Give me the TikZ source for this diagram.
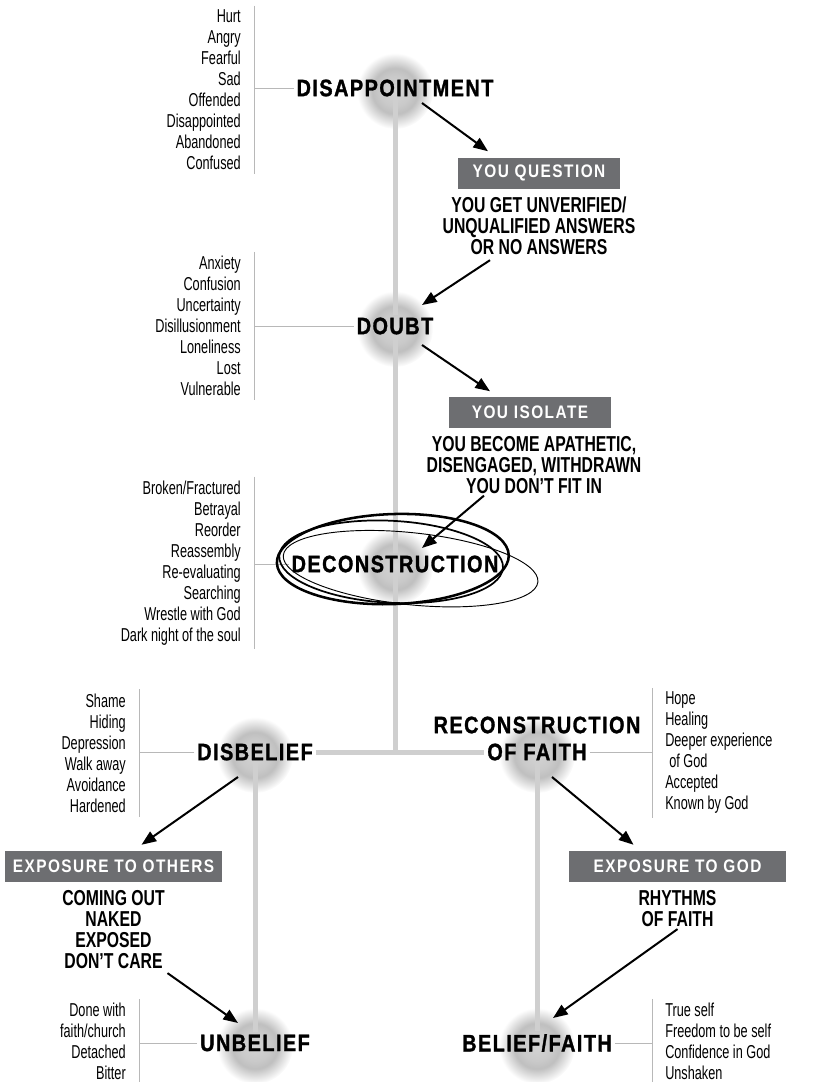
\documentclass[tikz,border=0pt]{standalone}
\usepackage{fontspec}
\setmainfont{Liberation Sans}[FakeStretch=0.68]
\newfontfamily\subFont{Liberation Sans}[FakeStretch=0.73,Ligatures=TeX]
\newfontfamily\stageFont{Liberation Sans}[FakeStretch=0.84,LetterSpace=6,FakeBold=1.2]
\newfontfamily\boxFont{Liberation Sans}[FakeStretch=0.85,LetterSpace=8]
\usetikzlibrary{positioning}
\usetikzlibrary{positioning,arrows.meta}
\definecolor{boxGray}{HTML}{6D6E71}
\definecolor{trunkGray}{HTML}{CFCFCF}
\definecolor{ruleGray}{HTML}{B8B8B8}
\pgfdeclareradialshading{glowShade}{\pgfpoint{0bp}{0bp}}{color(0bp)=(black!17); color(10bp)=(black!21); color(15bp)=(black!25); color(25bp)=(white); color(50bp)=(white)}
\pgfdeclarelayer{background}
\pgfsetlayers{background,main}

\begin{document}
\begin{tikzpicture}[x=0.75pt,y=-0.75pt]
\tikzset{
    titleStyle/.style={font=\stageFont\bfseries\fontsize{17.8}{20}\selectfont, inner sep=2pt, align=center},
    boxStyle/.style={rectangle, fill=boxGray, text=white, font=\boxFont\bfseries\fontsize{13.6}{15}\selectfont, minimum width=121.5pt, minimum height=23.25pt, inner sep=0pt},
    wideBox/.style={boxStyle, minimum width=162.75pt},
    subStyle/.style={font=\subFont\bfseries\fontsize{16.2}{15.75}\selectfont, align=center, inner sep=0pt},
    listStyle/.style={font=\fontsize{14}{15.75}\selectfont, inner sep=0pt},
    flowArrow/.style={-{Triangle[length=11pt,width=8.5pt]}, line width=1.5pt},
    trunkLine/.style={line width=3.75pt, trunkGray},
    bracketLine/.style={line width=0.75pt, ruleGray},
    glow/.style={shading=glowShade},
    loopStroke/.style={line width=#1, line cap=round}
}
\useasboundingbox (0,0) rectangle (815,1082);

% stages
\node[titleStyle] (disappoint) at (395,88) {DISAPPOINTMENT};
\node[titleStyle] (doubt) at (395,326) {DOUBT};
\node[titleStyle] (decon) at (395,564) {DECONSTRUCTION};
\node[titleStyle] (disbelief) at (255,752) {DISBELIEF};
\node[titleStyle] (recon2) at (537,752) {OF FAITH};
\node[titleStyle] (recon1) at (537,725) {RECONSTRUCTION};
\node[titleStyle] (unbelief) at (255,1043) {UNBELIEF};
\node[titleStyle] (belief) at (537,1043) {BELIEF/FAITH};

\begin{pgfonlayer}{background}
\foreach \ttl in {disappoint,doubt,decon,disbelief,recon2,unbelief,belief}
    \shade[glow] ([shift={(0,3)}]\ttl.center) circle (38);
\end{pgfonlayer}

% feelings
\node[listStyle, align=right, anchor=east] (disappointList) at (241,90) {Hurt\\Angry\\Fearful\\Sad\\Offended\\Disappointed\\Abandoned\\Confused};
\node[listStyle, align=right, anchor=east] (doubtList) at (241,326) {Anxiety\\Confusion\\Uncertainty\\Disillusionment\\Loneliness\\Lost\\Vulnerable};
\node[listStyle, align=right, anchor=east] (deconList) at (241,563) {Broken/Fractured\\Betrayal\\Reorder\\Reassembly\\Re-evaluating\\Searching\\Wrestle with God\\Dark night of the soul};
\node[listStyle, align=right, anchor=east] (disbeliefList) at (126,753) {Shame\\Hiding\\Depression\\Walk away\\Avoidance\\Hardened};
\node[listStyle, align=right, anchor=east] (unbeliefList) at (126,1041.5) {Done with\\faith/church\\Detached\\Bitter};
\node[listStyle, align=left, anchor=west] (reconList) at (665,753) {Hope\\Healing\\Deeper experience\\\hspace{3pt}of God\\Accepted\\Known by God};
\node[listStyle, align=left, anchor=west] (beliefList) at (665,1041.5) {True self\\Freedom to be self\\Confidence in God\\Unshaken};

\foreach \lst/\ttl in {disappointList/disappoint, doubtList/doubt, deconList/decon, disbeliefList/disbelief, unbeliefList/unbelief} {
    \coordinate (brk) at ([shift={(13,0)}]\lst.east);
    \draw[bracketLine] ([shift={(13,-4)}]\lst.north east) -- ([shift={(13,4)}]\lst.south east);
    \draw[bracketLine] (\ttl.west) -- (\ttl.west -| brk);
}
\foreach \lst/\ttl in {reconList/recon2, beliefList/belief} {
    \coordinate (brk) at ([shift={(-13,0)}]\lst.west);
    \draw[bracketLine] ([shift={(-13,-4)}]\lst.north west) -- ([shift={(-13,4)}]\lst.south west);
    \draw[bracketLine] (\ttl.east) -- (\ttl.east -| brk);
}

% actions
\node[boxStyle] (qbox) at (539,173) {YOU QUESTION};
\node[subStyle, below=6pt of qbox] (qtext) {YOU GET UNVERIFIED/\\UNQUALIFIED ANSWERS\\OR NO ANSWERS};
\node[boxStyle] (ibox) at (530,412) {YOU ISOLATE};
\node[subStyle, below=6pt of ibox, xshift=3pt] (itext) {YOU BECOME APATHETIC,\\DISENGAGED, WITHDRAWN\\YOU DON’T FIT IN};
\node[wideBox] (obox) at (113.5,866.5) {EXPOSURE TO OTHERS};
\node[subStyle, below=6pt of obox] (otext) {COMING OUT\\NAKED\\EXPOSED\\DON’T CARE};
\node[wideBox] (gbox) at (677.5,866.5) {EXPOSURE TO GOD};
\node[subStyle, below=6pt of gbox] (gtext) {RHYTHMS\\OF FAITH};

% the path
\draw[trunkLine] (disappoint.south) -- (doubt.north);
\draw[trunkLine] (doubt.south) -- (decon.north);
\coordinate (junction) at (decon.south |- recon2.west);
\draw[trunkLine] (decon.south) -- (junction);
\draw[trunkLine] (disbelief.east) -- (recon2.west);
\draw[trunkLine] (disbelief.south) -- (unbelief.north);
\draw[trunkLine] (recon2.south) -- (belief.north);

% circled stage
\draw[loopStroke=1.9pt, rotate=2] ([shift={(-2,-5)}]decon.center) ellipse [x radius=116, y radius=45];
\draw[loopStroke=1.3pt, rotate=-3] ([shift={(-4,-2)}]decon.center) ellipse [x radius=112, y radius=41];
\draw[loopStroke=0.7pt, rotate=-6] ([shift={(16,3)}]decon.center) ellipse [x radius=128, y radius=36];

\draw[flowArrow] ([shift={(27,15)}]disappoint.center) -- ([shift={(-51,-6)}]qbox.north);
\draw[flowArrow] ([shift={(-49,5)}]qtext.south) -- ([shift={(27,-21)}]doubt.center);
\draw[flowArrow] ([shift={(27,19)}]doubt.center) -- ([shift={(-40,-5)}]ibox.north);
\draw[flowArrow] ([shift={(-50,2)}]itext.south) -- ([shift={(27,-16)}]decon.center);
\draw[flowArrow] ([shift={(-17,25)}]disbelief.center) -- ([shift={(28,-6)}]obox.north);
\draw[flowArrow] ([shift={(54,4)}]otext.south) -- ([shift={(-17,-20)}]unbelief.center);
\draw[flowArrow] ([shift={(15,25)}]recon2.center) -- ([shift={(-44,-6)}]gbox.north);
\draw[flowArrow] ([shift={(0,2)}]gtext.south) -- ([shift={(16,-25)}]belief.center);

\end{tikzpicture}
\end{document}
